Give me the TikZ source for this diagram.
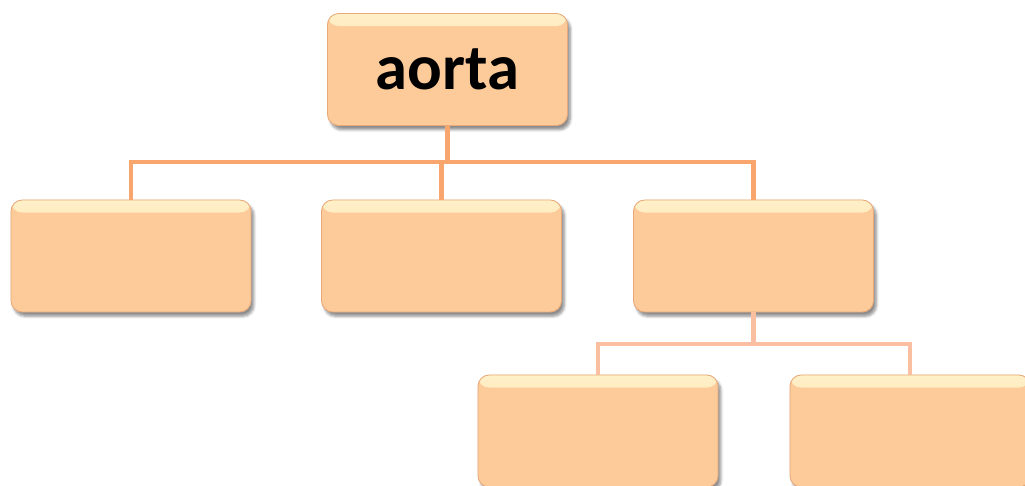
\documentclass[tikz,border=0pt]{standalone}
\usepackage{fontspec}
\setmainfont{Carlito}
\usetikzlibrary{shadows.blur}
\definecolor{boxfill}{HTML}{FDCA9A}
\definecolor{boxedge}{HTML}{E8A878}
\definecolor{boxlight}{HTML}{FFF0C8}
\definecolor{linkup}{HTML}{F8A66E}
\definecolor{linkdown}{HTML}{F9BFA0}
\tikzset{
  organ/.style={rectangle, rounded corners=8pt, fill=boxfill, draw=boxedge, line width=0.6pt,
    minimum width=6cm, minimum height=2.8cm, inner sep=0pt,
    blur shadow={shadow xshift=2pt, shadow yshift=-3pt, shadow opacity=45, shadow blur steps=6},
    path picture={\shade[top color=boxlight, bottom color=boxfill]
      (path picture bounding box.north west) rectangle ([yshift=-9pt]path picture bounding box.north east);},
    font=\fontsize{46}{50}\selectfont\bfseries},
  link/.style={line width=3.3pt, draw=linkup},
  sublink/.style={line width=3.3pt, draw=linkdown}
}
\begin{document}
\begin{tikzpicture}[x=0.025cm,y=-0.025cm]
\useasboundingbox (0,0) rectangle (1025,486);
\clip (0,0) rectangle (1025,486);
\node[organ] (aorta) at (447.5,69.5) {aorta}; % top box
\node[organ] (left) at (131,256) {}; % left branch
\node[organ] (middle) at (441.5,256) {}; % middle branch
\node[organ] (right) at (753.5,256) {}; % right branch
\node[organ] (lowleft) at (598,431) {}; % lower left
\node[organ] (lowright) at (910,431) {}; % lower right
\coordinate (topbus) at (aorta.south |- 0,162);
\coordinate (lowbus) at (right.south |- 0,344);
\draw[link] (aorta.south) -- (topbus); % Wiring
\draw[link] (left.north) |- (topbus) -| (right.north); % Wiring
\draw[link] (middle.north) -- (middle.north |- topbus); % Wiring
\draw[sublink] (right.south) -- (lowbus); % Wiring
\draw[sublink] (lowleft.north) |- (lowbus) -| (lowright.north); % Wiring
\end{tikzpicture}
\end{document}
